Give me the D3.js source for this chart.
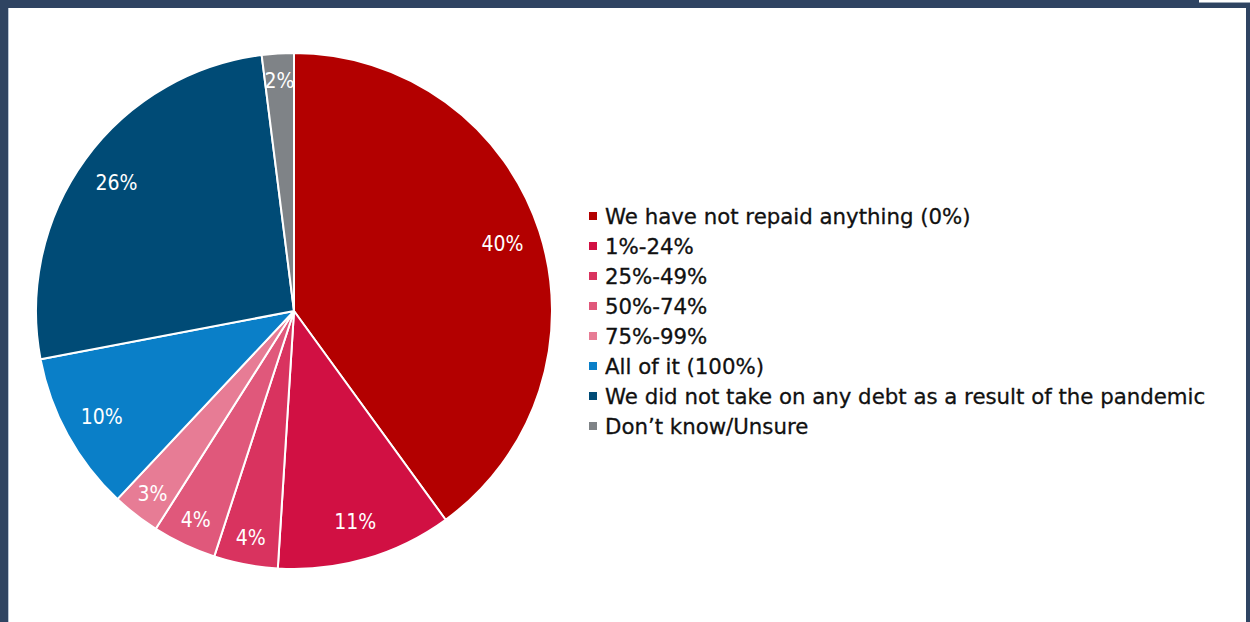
<!DOCTYPE html>
<html>
<head>
<meta charset="utf-8">
<script src="https://cdn.jsdelivr.net/npm/d3@7"></script>
<style>
  html, body { margin: 0; padding: 0; background: #fff; }
  svg { display: block; }
</style>
</head>
<body>
<svg id="chart" width="1250" height="622"></svg>
<script>
// Share of pandemic debt repaid (percent of respondents)
const categories = [
  "We have not repaid anything (0%)",
  "1%-24%",
  "25%-49%",
  "50%-74%",
  "75%-99%",
  "All of it (100%)",
  "We did not take on any debt as a result of the pandemic",
  "Don\u2019t know/Unsure"
];
const values = [40, 11, 4, 4, 3, 10, 26, 2];
const colors = ["#b30000", "#d11043", "#d9335f", "#e0587b", "#e77c95", "#0a7fc8", "#004b76", "#7f8387"];

const svg = d3.select("#chart");
const W = 1250, H = 622;

// Frame
const frame = "#2f4462";
svg.append("rect").attr("x", 0).attr("y", 0).attr("width", 1199).attr("height", 8).attr("fill", frame);
svg.append("rect").attr("x", 1199).attr("y", 3).attr("width", 51).attr("height", 5).attr("fill", frame);
svg.append("rect").attr("x", 1199).attr("y", 2).attr("width", 51).attr("height", 1).attr("fill", "#9aa6b5");
svg.append("rect").attr("x", 0).attr("y", 0).attr("width", 8).attr("height", H).attr("fill", frame);
svg.append("rect").attr("x", 8).attr("y", 8).attr("width", 1).attr("height", H - 8).attr("fill", "#b9c6d6");
svg.append("rect").attr("x", 1246).attr("y", 3).attr("width", 4).attr("height", H - 3).attr("fill", frame);

// Pie
const cx = 294, cy = 311, R = 258;
const data = categories.map((c, i) => ({ name: c, value: values[i], color: colors[i] }));
const pie = d3.pie().value(d => d.value).sort(null);
const arcs = pie(data);
const arc = d3.arc().innerRadius(0).outerRadius(R);

const g = svg.append("g").attr("transform", `translate(${cx},${cy})`);
g.selectAll("path.slice")
  .data(arcs)
  .join("path")
  .attr("class", "slice")
  .attr("d", arc)
  .attr("fill", d => d.data.color)
  .attr("stroke", "#fff")
  .attr("stroke-width", 2)
  .attr("stroke-linejoin", "round");

const labelArc = d => {
  const k = d.data.value >= 10 ? 0.85 : 0.895;
  return d3.arc().innerRadius(R * k).outerRadius(R * k).centroid(d);
};
g.selectAll("text.val")
  .data(arcs)
  .join("text")
  .attr("class", "val")
  .attr("transform", d => `translate(${labelArc(d)})`)
  .attr("text-anchor", "middle")
  .attr("dy", "0.36em")
  .attr("fill", "#fff")
  .attr("font-family", "'DejaVu Sans Condensed', 'DejaVu Sans', sans-serif")
  .attr("font-size", 21)
  .text(d => d.data.value + "%");

// Legend
const legendY = d3.scalePoint().domain(categories).range([216, 426]);
const lg = svg.append("g");
const rows = lg.selectAll("g.row")
  .data(data)
  .join("g")
  .attr("class", "row")
  .attr("transform", d => `translate(589,${legendY(d.name)})`);
rows.append("rect")
  .attr("x", 0).attr("y", -4)
  .attr("width", 8).attr("height", 8)
  .attr("fill", d => d.color);
rows.append("text")
  .attr("x", 16)
  .attr("dy", "0.36em")
  .attr("fill", "#111")
  .attr("stroke", "#111")
  .attr("stroke-width", 0.3)
  .attr("font-family", "'DejaVu Sans', sans-serif")
  .attr("font-size", 21.3)
  .text(d => d.name);
</script>
</body>
</html>
